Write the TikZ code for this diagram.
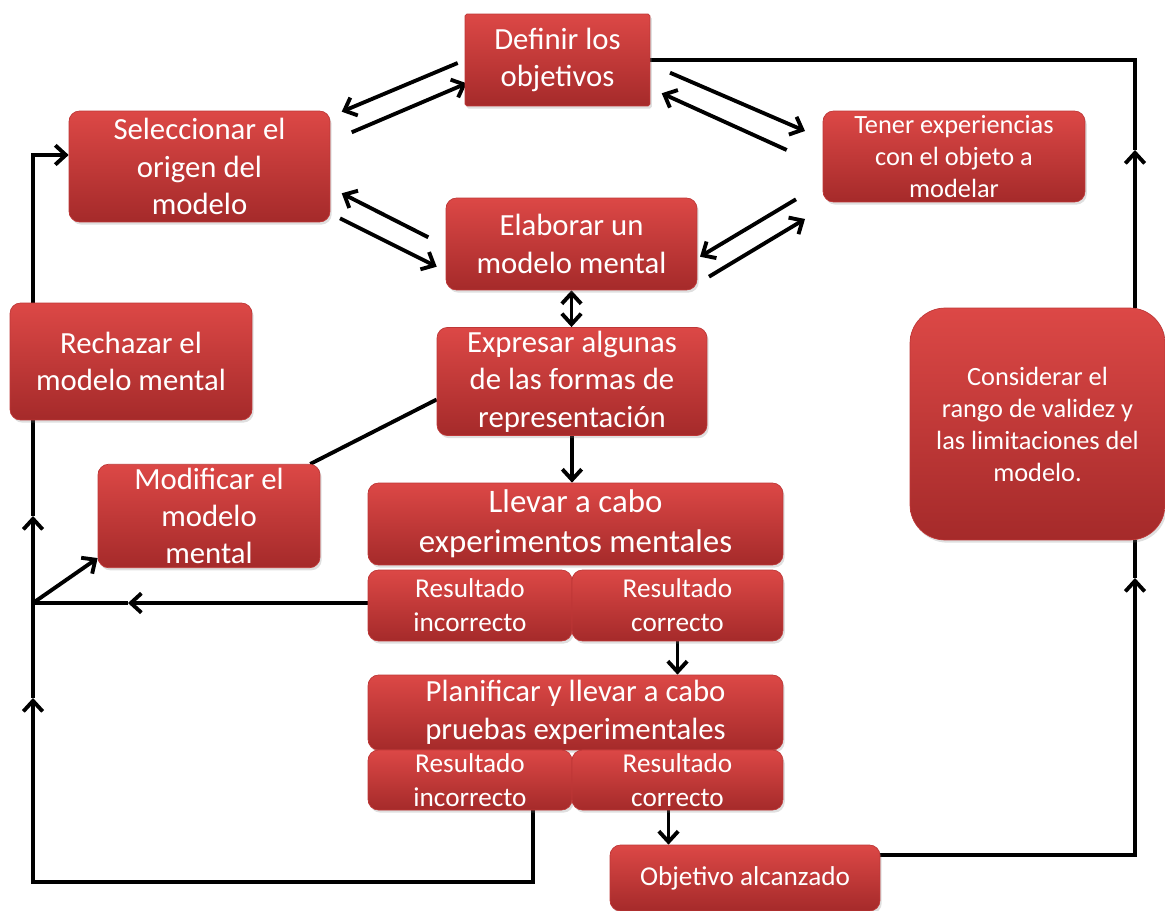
\documentclass[tikz,border=0pt]{standalone}
\usepackage{fontspec}
\setmainfont{Carlito}
\usetikzlibrary{arrows.meta,shadows,calc}
\pgfdeclarelayer{bg}
\pgfsetlayers{bg,main}
\definecolor{boxtop}{RGB}{220,72,70}
\definecolor{boxbot}{RGB}{165,42,42}
\definecolor{boxedge}{RGB}{190,55,55}
\tikzset{
  box/.style={rectangle, rounded corners=6pt, top color=boxtop, bottom color=boxbot,
    draw=boxedge, line width=0.4pt, text=white, align=center, inner sep=2pt,
    drop shadow={opacity=0.25, shadow xshift=1pt, shadow yshift=-1.5pt}},
  big/.style={font=\fontsize{17.5}{21.3}\selectfont},
  mid/.style={font=\fontsize{15.5}{19.3}\selectfont},
  sml/.style={font=\fontsize{15}{18.2}\selectfont},
  conn/.style={line width=2.2pt},
  arr/.style={conn, -{Straight Barb[length=6pt,width=11pt]}},
  dbl/.style={conn, {Straight Barb[length=6pt,width=11pt]}-{Straight Barb[length=6pt,width=11pt]}},
}
\begin{document}
\begin{tikzpicture}[x=0.02cm,y=-0.02cm]
\useasboundingbox (0,0) rectangle (1165,911);

\node[box,big,minimum width=3.7cm,minimum height=1.84cm,rounded corners=1pt] (def) at (557.5,60) {Definir los\\objetivos};
\node[box,big,minimum width=5.22cm,minimum height=2.22cm] (sel) at (199.5,166.5) {Seleccionar el\\origen del\\modelo};
\node[box,sml,minimum width=5.24cm,minimum height=1.82cm,text depth=-3pt] (ten) at (954,156.5) {Tener experiencias\\con el objeto a\\modelar};
\node[box,big,minimum width=5.02cm,minimum height=1.84cm] (ela) at (571.5,244) {Elaborar un\\modelo mental};
\node[box,big,minimum width=5.4cm,minimum height=2.14cm] (exp) at (572,381.5) {Expresar algunas\\de las formas de\\representación};
\node[box,big,minimum width=4.84cm,minimum height=2.34cm] (rec) at (131,361.5) {Rechazar el\\modelo mental};
\node[box,big,minimum width=4.44cm,minimum height=1.96cm] (mod) at (209,516) {Modificar el\\modelo\\mental};
\node[box,font=\fontsize{18.7}{22.7}\selectfont,minimum width=8.3cm,minimum height=1.64cm] (lle) at (575.5,524) {Llevar a cabo\\experimentos mentales};
\node[box,mid,minimum width=4.08cm,minimum height=1.42cm] (ri1) at (470,605.5) {Resultado\\incorrecto};
\node[box,mid,minimum width=4.22cm,minimum height=1.42cm] (rc1) at (677.5,605.5) {Resultado\\correcto};
\node[box,big,minimum width=8.3cm,minimum height=1.5cm] (pla) at (575.5,712.5) {Planificar y llevar a cabo\\pruebas experimentales};
\node[box,mid,minimum width=4.08cm,minimum height=1.2cm] (ri2) at (470,780) {Resultado\\incorrecto};
\node[box,mid,minimum width=4.22cm,minimum height=1.2cm] (rc2) at (677.5,780) {Resultado\\correcto};
\node[box,mid,minimum width=5.4cm,minimum height=1.32cm] (obj) at (745,878) {Objetivo alcanzado};
\node[box,sml,minimum width=5.1cm,minimum height=4.64cm,rounded corners=20pt] (con) at (1037.5,424) {Considerar el\\rango de validez y\\las limitaciones del\\modelo.};

\begin{pgfonlayer}{bg}
% right loop
\coordinate (ra) at (1135,150);
\coordinate (rb) at (1135,578);
\draw[conn] (def.east) -| (ra);
\draw[arr] (con.north -| ra) -- (ra);
\draw[arr] ($(obj.east)+(0,-23)$) -| (rb);
\draw[conn] (rb) -- (con.south -| rb);
% left loop
\coordinate (lb) at (533,882);
\coordinate (lc) at (33,882);
\coordinate (la1) at (33,698);
\coordinate (la2) at (33,516);
\coordinate (lt) at (33,155);
\coordinate (lm) at (33,603);
\coordinate (lh) at (128,603);
\draw[arr] (ri2.south -| lb) -- (lb) -- (lc) -- (la1);
\draw[arr] (la1) -- (la2);
\draw[arr] (la2) -- (lt) -- (sel.west |- lt);
\draw[arr] (ri1.west |- lm) -- (lh);
\draw[conn] (lh) -- (lm);
\draw[arr] (lm) -- ($(mod.south west)+(0,-10)$);
\draw[conn] ($(exp.west)+(0,18)$) -- ($(mod.north east)+(-10,0)$);
% vertical flow
\draw[dbl] (ela.south) -- (ela.south |- exp.north);
\draw[arr] (exp.south) -- (exp.south |- lle.north);
\draw[arr] (rc1.south) -- (rc1.south |- pla.north);
\draw[arr] ($(rc2.south)+(-9,0)$) -- ($(rc2.south |- obj.north)+(-9,0)$);
% diagonal pairs
\coordinate (a1) at (457.7,63);   \coordinate (a2) at (341.7,111.7);
\coordinate (a3) at (351.7,132.3); \coordinate (a4) at (466.7,83.3);
\coordinate (b1) at (670,72.7);   \coordinate (b2) at (805,131);
\coordinate (b3) at (786.7,150);  \coordinate (b4) at (661.7,93.3);
\coordinate (c1) at (428.3,237.3); \coordinate (c2) at (341.7,193.3);
\coordinate (c3) at (340,218.3);  \coordinate (c4) at (436.7,266.7);
\coordinate (d1) at (796,199.3);  \coordinate (d2) at (700,256.7);
\coordinate (d3) at (709,276.7);  \coordinate (d4) at (805,219);
\draw[arr] (a1) -- (a2);
\draw[arr] (a3) -- (a4);
\draw[arr] (b1) -- (b2);
\draw[arr] (b3) -- (b4);
\draw[arr] (c1) -- (c2);
\draw[arr] (c3) -- (c4);
\draw[arr] (d1) -- (d2);
\draw[arr] (d3) -- (d4);
\end{pgfonlayer}
\end{tikzpicture}
\end{document}
